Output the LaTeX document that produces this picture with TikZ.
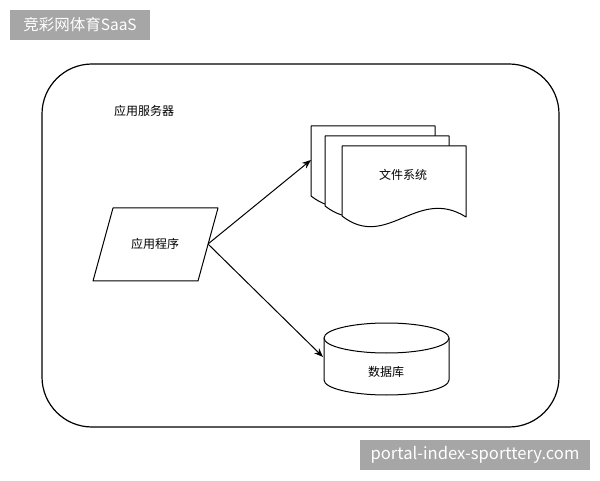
\documentclass[tikz,border=0pt]{standalone}
\usepackage{fontspec}
\setmainfont{Noto Sans CJK SC}
\usetikzlibrary{arrows.meta}
\definecolor{tagGray}{HTML}{A6A6A6}
\tikzset{
  shapeline/.style={draw=black, line width=1pt, fill=white, line join=round},
  lbl/.style={font=\fontsize{12}{14}\selectfont, inner sep=0pt},
  tag/.style={fill=tagGray, text=white, font=\fontsize{15.5}{18}\selectfont, inner sep=0pt},
  conn/.style={draw=black, line width=1pt, -{Stealth[length=9pt,width=7pt]}},
}
\begin{document}
\begin{tikzpicture}[x=1pt,y=1pt]
\useasboundingbox (0,0) rectangle (600,480);
% outer rounded container
\draw[line width=1.2pt, rounded corners=50] (42,416) rectangle (559,53);
\node[lbl] (server) at (144,369) {应用服务器};
% tags
\fill[tagGray] (10,440) rectangle (150,470);
\node[tag] (tagtop) at (80,455) {竞彩网体育SaaS};
\fill[tagGray] (360,10) rectangle (590,40);
\node[tag, font=\fontsize{16.6}{19}\selectfont] (tagbot) at (475,25) {portal-index-sporttery.com};
% parallelogram
\draw[shapeline] (113,272) -- (218,272) -- (198,199) -- (93,199) -- cycle;
\node[lbl] (app) at (155,236) {应用程序};
\coordinate (appE) at (208,236);
% document stack
\foreach \x/\Y in {311/354, 325/344, 342/334}{
  \draw[shapeline] (\x,\Y) -- (\x+124,\Y) -- (\x+124,\Y-71)
    .. controls (\x+75,\Y-40) and (\x+45,\Y-105) .. (\x,\Y-70) -- cycle;
}
\node[lbl] (fs) at (403,305) {文件系统};
\coordinate (fsW) at (311,320);
% cylinder
\draw[shapeline] (324,142) -- (324,100)
  .. controls (324,91.7) and (352,85) .. (386.5,85)
  .. controls (421,85) and (449,91.7) .. (449,100)
  -- (449,142) -- cycle;
\draw[shapeline] (386.5,142) ellipse [x radius=62.5, y radius=15];
\node[lbl] (db) at (386,108) {数据库};
\coordinate (dbW) at (323,123);
% connectors
\draw[conn] (appE) -- (fsW);
\draw[conn] (appE) -- (dbW);
\end{tikzpicture}
\end{document}
